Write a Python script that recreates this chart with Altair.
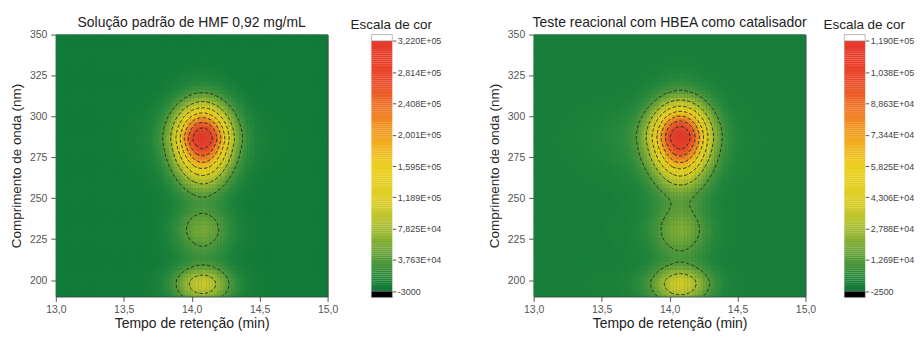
import json
import altair as alt
import numpy as np
import pandas as pd

alt.data_transformers.disable_max_rows()

# ---------------- data ----------------
# retention time grid (min) and wavelength grid (nm)
TIME = [round(13.0 + 0.02 * k, 2) for k in range(101)]
WAVE = [190.0 + 2.5 * j for j in range(65)]

# relative UV spectrum along the peak apex (190 -> 350 nm, 2.5 nm steps)
SPEC_LEFT = [0.20, 0.26, 0.30, 0.315, 0.30, 0.255, 0.20, 0.145, 0.105, 0.085,
             0.085, 0.097, 0.112, 0.13, 0.148, 0.162, 0.17, 0.168, 0.158, 0.142,
             0.122, 0.106, 0.097, 0.097, 0.11, 0.135, 0.17, 0.215, 0.27, 0.33,
             0.40, 0.475, 0.555, 0.64, 0.72, 0.80, 0.87, 0.93, 0.995, 1.0,
             0.95, 0.89, 0.80, 0.70, 0.59, 0.48, 0.38, 0.29, 0.215, 0.155,
             0.108, 0.075, 0.05, 0.034, 0.022, 0.015, 0.01, 0.007, 0.005, 0.003,
             0.002, 0.001, 0.0, 0.0, 0.0]
SPEC_RIGHT = [0.21, 0.27, 0.31, 0.33, 0.315, 0.265, 0.21, 0.155, 0.115, 0.095,
              0.095, 0.105, 0.12, 0.138, 0.155, 0.167, 0.173, 0.172, 0.165, 0.152,
              0.138, 0.127, 0.12, 0.12, 0.128, 0.148, 0.18, 0.222, 0.275, 0.335,
              0.40, 0.475, 0.555, 0.64, 0.72, 0.80, 0.87, 0.93, 0.98, 1.0,
              0.97, 0.915, 0.835, 0.735, 0.625, 0.515, 0.41, 0.315, 0.235, 0.17,
              0.12, 0.084, 0.058, 0.04, 0.027, 0.018, 0.012, 0.008, 0.005, 0.003,
              0.002, 0.001, 0.0, 0.0, 0.0]

# relative chromatographic profile (13.00 -> 15.00 min, 0.02 min steps)
CHROM_LEFT = [0.0001, 0.0001, 0.0001, 0.0001, 0.0002, 0.0002, 0.0003, 0.0003, 0.0004, 0.0005,
              0.0006, 0.0007, 0.0009, 0.001, 0.0012, 0.0015, 0.0017, 0.0021, 0.0024, 0.0028,
              0.0033, 0.0038, 0.0044, 0.0051, 0.0058, 0.0066, 0.0077, 0.0088, 0.0101, 0.0116,
              0.014, 0.016, 0.019, 0.024, 0.029, 0.038, 0.049, 0.063, 0.082, 0.107,
              0.139, 0.180, 0.228, 0.286, 0.354, 0.429, 0.511, 0.598, 0.685, 0.768,
              0.845, 0.909, 0.958, 0.989, 1.0,
              0.989, 0.958, 0.909, 0.845, 0.768, 0.685, 0.598, 0.511, 0.429, 0.354,
              0.286, 0.228, 0.180, 0.139, 0.107, 0.082, 0.063, 0.049, 0.038, 0.029,
              0.024, 0.019, 0.016, 0.014, 0.0116, 0.0101, 0.0088, 0.0077, 0.0066, 0.0058,
              0.0051, 0.0044, 0.0038, 0.0033, 0.0028, 0.0024, 0.0021, 0.0017, 0.0015, 0.0012,
              0.001, 0.0009, 0.0007, 0.0006, 0.0005, 0.0004]
CHROM_RIGHT = [0.0015, 0.0017, 0.002, 0.0023, 0.0027, 0.003, 0.0035, 0.0039, 0.0045, 0.0051,
               0.0057, 0.0064, 0.0071, 0.0079, 0.0088, 0.0098, 0.0108, 0.0119, 0.013, 0.0143,
               0.0156, 0.0169, 0.0183, 0.0198, 0.0211, 0.023, 0.0247, 0.0266, 0.0286, 0.0313,
               0.0338, 0.0368, 0.0408, 0.0462, 0.0535, 0.0626, 0.0754, 0.0911, 0.1124, 0.1402,
               0.1737, 0.2157, 0.2662, 0.325, 0.3915, 0.4654, 0.545, 0.628, 0.710, 0.788,
               0.8585, 0.918, 0.963, 0.991, 1.0,
               0.989, 0.959, 0.912, 0.850, 0.778, 0.698, 0.614, 0.530, 0.449, 0.3735,
               0.306, 0.246, 0.1946, 0.152, 0.1178, 0.0896, 0.068, 0.0523, 0.0395, 0.0305,
               0.0235, 0.0185, 0.0151, 0.0126, 0.0104, 0.0089, 0.0077, 0.0067, 0.0057, 0.005,
               0.0045, 0.0039, 0.0035, 0.003, 0.0027, 0.0023, 0.002, 0.0017, 0.0015, 0.0013,
               0.0011, 0.001, 0.0008, 0.0007, 0.0006, 0.0005]

# colour-scale ticks and labels
CB_LEFT_TICKS = [-3000, 37625, 78250, 118875, 159500, 200125, 240750, 281375, 322000]
CB_LEFT_LABELS = ["-3000", "3,763E+04", "7,825E+04", "1,189E+05", "1,595E+05",
                  "2,001E+05", "2,408E+05", "2,814E+05", "3,220E+05"]
CB_RIGHT_TICKS = [-2500, 12687.5, 27875, 43062.5, 58250, 73437.5, 88625, 103812.5, 119000]
CB_RIGHT_LABELS = ["-2500", "1,269E+04", "2,788E+04", "4,306E+04", "5,825E+04",
                   "7,344E+04", "8,863E+04", "1,038E+05", "1,190E+05"]

TITLE_LEFT = "Solução padrão de HMF 0,92 mg/mL"
TITLE_RIGHT = "Teste reacional com HBEA como catalisador"
CB_TITLE = "Escala de cor"
X_TITLE = "Tempo de retenção (min)"
Y_TITLE = "Comprimento de onda (nm)"

X_TICKS = [13.0, 13.5, 14.0, 14.5, 15.0]
X_LABELS = ["13,0", "13,5", "14,0", "14,5", "15,0"]
X_MINOR = [13.25, 13.75, 14.25, 14.75]
Y_TICKS = [200, 225, 250, 275, 300, 325, 350]
Y_LABELS = ["200", "225", "250", "275", "300", "325", "350"]
Y_MINOR = [212.5, 237.5, 262.5, 287.5, 312.5, 337.5]

STOP_F = [0.0, 0.06, 0.125, 0.25, 0.36, 0.5, 0.6, 0.72, 0.84, 1.0]
STOP_C = ["#0e7838", "#2a8a3d", "#55993a", "#a5bc32", "#dccd25", "#ebcf1f",
          "#f2aa20", "#ef7a26", "#e94a2a", "#e6372b"]

FONT = "Liberation Sans"


def lab_expr(vals, labels):
    v = json.dumps(vals)
    return f"indexof({v}, datum.value) >= 0 ? {json.dumps(labels)}[indexof({v}, datum.value)] : ''"


def minor_cond(major, small, big):
    return {"condition": {"test": f"indexof({json.dumps(major)}, datum.value) < 0", "value": small},
            "value": big}


def color_scale(vmin, vmax):
    return alt.Scale(domain=[vmin + f * (vmax - vmin) for f in STOP_F], range=STOP_C,
                     interpolate="rgb", clamp=True)


def contours(T, L, Z, levels):
    rows = []
    lid = 0
    ny, nx = Z.shape
    for lev in levels:
        adj = {}

        def link(a, b):
            adj.setdefault(a, []).append(b)
            adj.setdefault(b, []).append(a)

        for j in range(ny - 1):
            for i in range(nx - 1):
                a = int(Z[j, i] > lev); b = int(Z[j, i + 1] > lev)
                c = int(Z[j + 1, i + 1] > lev); d = int(Z[j + 1, i] > lev)
                code = a + 2 * b + 4 * c + 8 * d
                if code in (0, 15):
                    continue
                e0 = ("h", i, j); e1 = ("v", i + 1, j); e2 = ("h", i, j + 1); e3 = ("v", i, j)
                center = (Z[j, i] + Z[j, i + 1] + Z[j + 1, i + 1] + Z[j + 1, i]) / 4 > lev
                if code == 5:
                    if center:
                        link(e0, e1); link(e2, e3)
                    else:
                        link(e3, e0); link(e1, e2)
                elif code == 10:
                    if center:
                        link(e3, e0); link(e1, e2)
                    else:
                        link(e0, e1); link(e2, e3)
                else:
                    pairs = {1: (e3, e0), 2: (e0, e1), 3: (e3, e1), 4: (e1, e2), 6: (e0, e2),
                             7: (e3, e2), 8: (e2, e3), 9: (e0, e2), 11: (e1, e2), 12: (e1, e3),
                             13: (e0, e1), 14: (e0, e3)}
                    link(*pairs[code])

        def pt(e):
            kind, i, j = e
            if kind == "h":
                za, zb = Z[j, i], Z[j, i + 1]
                f = (lev - za) / (zb - za)
                return T[i] + f * (T[i + 1] - T[i]), L[j]
            za, zb = Z[j, i], Z[j + 1, i]
            f = (lev - za) / (zb - za)
            return T[i], L[j] + f * (L[j + 1] - L[j])

        visited = set()
        starts = [k for k, v in adj.items() if len(v) == 1] + list(adj.keys())
        for s in starts:
            if s in visited:
                continue
            path = [s]; visited.add(s); cur = s
            while True:
                nxt = [n for n in adj[cur] if n not in visited]
                if not nxt:
                    if len(path) > 2 and s in adj[cur]:
                        path.append(s)
                    break
                cur = nxt[0]; visited.add(cur); path.append(cur)
            for o, e in enumerate(path):
                x, y = pt(e)
                rows.append({"t": x, "l": y, "line": lid, "ord": o})
            lid += 1
    return pd.DataFrame(rows)


def panel(spec, chrom, zmax, ticks, title, width):
    S = np.array(spec); C = np.array(chrom)
    Z = np.outer(S, C)
    Z = Z * (zmax / Z.max())
    T = np.array(TIME); L = np.array(WAVE)
    tt, ll = np.meshgrid(T, L)
    heat = pd.DataFrame({
        "t0": (tt - 0.01).ravel(), "t1": (tt + 0.0115).ravel(),
        "l0": (ll - 1.25).ravel(), "l1": (ll + 1.5).ravel(),
        "v": Z.ravel(),
    })
    cs = color_scale(ticks[0], ticks[-1])
    xaxis = alt.Axis(values=sorted(X_TICKS + X_MINOR), labelExpr=lab_expr(X_TICKS, X_LABELS),
                     tickSize=minor_cond(X_TICKS, 3, 5), title=X_TITLE, titleFontSize=14,
                     titleFontWeight="normal", titleColor="#222", labelFontSize=10.5,
                     labelColor="#555", tickColor="#555", domain=False, grid=False,
                     labelOverlap=False, labelFlush=False, labelPadding=3, titlePadding=2)
    yaxis = alt.Axis(values=sorted(Y_TICKS + Y_MINOR), labelExpr=lab_expr(Y_TICKS, Y_LABELS),
                     tickSize=minor_cond(Y_TICKS, 3, 5), title=Y_TITLE, titleFontSize=13.5,
                     titleFontWeight="normal", titleColor="#222", labelFontSize=10.5,
                     labelColor="#555", tickColor="#555", domain=False, grid=False,
                     labelOverlap=False, labelFlush=False, labelPadding=4, titlePadding=6)
    hm = alt.Chart(heat).mark_rect(clip=True).encode(
        x=alt.X("t0:Q", scale=alt.Scale(domain=[13, 15], nice=False, zero=False), axis=xaxis),
        x2="t1:Q",
        y=alt.Y("l0:Q", scale=alt.Scale(domain=[190, 350], nice=False, zero=False), axis=yaxis),
        y2="l1:Q",
        color=alt.Color("v:Q", scale=cs, legend=None),
    )
    cdf = contours(T, L, Z, ticks[1:-1])
    lines = alt.Chart(cdf).mark_line(clip=True, color="#222", strokeWidth=1,
                                     strokeDash=[3.5, 2], opacity=0.85).encode(
        x="t:Q", y="l:Q", detail="line:N", order="ord:Q")
    return alt.layer(hm, lines).properties(
        width=width, height=263,
        title=alt.TitleParams(title, fontSize=14, fontWeight="normal", color="#222",
                              font=FONT, offset=0),
        view=alt.ViewBackground(stroke="#3a3a3a", strokeWidth=1, fill="#0f7837"),
    )


def colorbar(ticks, labels):
    vmin, vmax = ticks[0], ticks[-1]
    step = ticks[1] - ticks[0]
    cap = step * 0.2
    n = 120
    edges = [vmin + (vmax - vmin) * k / n for k in range(n + 1)]
    grad = pd.DataFrame({"lo": edges[:-1], "hi": [e + (vmax - vmin) / n * 1.05 for e in edges[:-1]],
                         "mid": [(edges[k] + edges[k + 1]) / 2 for k in range(n)]})
    grad.loc[n - 1, "hi"] = vmax
    caps = pd.DataFrame({"lo": [vmin - cap, vmax], "hi": [vmin, vmax + cap],
                         "c": ["#000000", "#ffffff"]})
    yax = alt.Axis(orient="right", values=ticks, labelExpr=lab_expr(ticks, labels), title=None,
                   domain=False, grid=False, tickSize=3.5, tickColor="#555", labelFontSize=9,
                   labelColor="#444", labelPadding=1.5, labelOverlap=False, labelFlush=False)
    yscale = alt.Scale(domain=[vmin - cap, vmax + cap], nice=False, zero=False)
    g = alt.Chart(grad).mark_rect().encode(
        x=alt.value(0), x2=alt.value(21),
        y=alt.Y("lo:Q", scale=yscale, axis=yax),
        y2="hi:Q",
        color=alt.Color("mid:Q", scale=color_scale(vmin, vmax), legend=None),
    )
    c = alt.Chart(caps).mark_rect(stroke="#888", strokeWidth=0.6).encode(
        x=alt.value(0), x2=alt.value(21), y=alt.Y("lo:Q", scale=yscale, axis=yax), y2="hi:Q",
        fill=alt.Fill("c:N", scale=None),
    )
    return alt.layer(g, c).properties(
        width=21, height=264,
        title=alt.TitleParams(CB_TITLE, fontSize=13.5, fontWeight="normal", color="#222",
                              font=FONT, offset=2.5, dx=9.5),
        view=alt.ViewBackground(stroke=None),
    )


left = alt.hconcat(panel(SPEC_LEFT, CHROM_LEFT, 322000, CB_LEFT_TICKS, TITLE_LEFT, 273),
                   colorbar(CB_LEFT_TICKS, CB_LEFT_LABELS), spacing=12
                   ).resolve_scale(y="independent", x="independent")
right = alt.hconcat(panel(SPEC_RIGHT, CHROM_RIGHT, 119000, CB_RIGHT_TICKS, TITLE_RIGHT, 273),
                    colorbar(CB_RIGHT_TICKS, CB_RIGHT_LABELS), spacing=7
                    ).resolve_scale(y="independent", x="independent")

chart = alt.hconcat(left, right, spacing=45).resolve_scale(
    color="independent", x="independent", y="independent"
).properties(
    padding={"left": 0, "top": 6, "right": 0, "bottom": 0}
).configure(font=FONT).configure_view(stroke=None).configure_axis(labelOverlap=False)

chart.save("out.html", embed_options={"renderer": "svg", "actions": False})
